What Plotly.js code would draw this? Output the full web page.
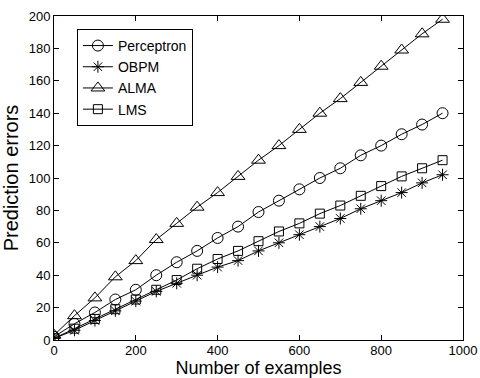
<!DOCTYPE html>
<html><head><meta charset="utf-8">
<script src="https://cdn.plot.ly/plotly-3.0.1.min.js"></script>
<style>html,body{margin:0;padding:0;background:#fff}#plot{width:480px;height:378px}</style>
</head><body><div id="plot"></div>
<script>
const examples = [0,50,100,150,200,250,300,350,400,450,500,550,600,650,700,750,800,850,900,950];
const perceptron = [2,10,17,25,31,40,48,55,63,70,79,86,93,100,106,114,120,127,133,140];
const obpm = [1,6,12,18,24,30,35,40,45,49,55,60,65,70,75,81,86,91,97,102];
const alma = [3,15,26,39,49,62,72,82,91,101,111,120,130,140,149,159,169,179,189,198];
const lms = [1,7,13,19,25,31,37,44,50,55,61,67,72,78,83,89,95,101,106,111];
const seriesNames = ['Perceptron','OBPM','ALMA','LMS'];
const xTicks = [0,200,400,600,800,1000];
const yTicks = [0,20,40,60,80,100,120,140,160,180,200];

const symbols = ['circle-open','asterisk-open','triangle-up-open','square-open'];
const sizes = [11,10,12,9];
const data = [perceptron, obpm, alma, lms].map((ys,i)=>({
  x: examples, y: ys, name: seriesNames[i], type:'scatter', mode:'lines+markers',
  line:{color:'#000', width:1},
  marker:{symbol:symbols[i], size:sizes[i], color:'#000', line:{color:'#000', width:1}}
}));
const axisCommon = {showline:true, mirror:'ticks', linecolor:'#000', linewidth:1,
  ticks:'inside', ticklen:5, tickcolor:'#000', showgrid:false, zeroline:false,
  tickfont:{family:'Liberation Sans, Arial', size:13, color:'#000'}};
const layout = {
  width:480, height:378,
  margin:{l:54, r:17, t:16, b:38},
  paper_bgcolor:'#fff', plot_bgcolor:'#fff',
  font:{family:'Liberation Sans, Arial', color:'#000'},
  xaxis: Object.assign({}, axisCommon, {range:[0,1000], tickvals:xTicks, ticktext:xTicks.map(String),
    ticklabelstandoff:-2,
    title:{text:'Number of examples', font:{size:18}, standoff:0}}),
  yaxis: Object.assign({}, axisCommon, {range:[0,200], tickvals:yTicks, ticktext:yTicks.map(String),
    title:{text:'Prediction errors', font:{size:20}, standoff:4}}),
  showlegend:true,
  legend:{x:0.056, y:0.96, xanchor:'left', yanchor:'top', bgcolor:'#fff', bordercolor:'#000', borderwidth:1,
    font:{size:14, family:'Liberation Sans, Arial'}, tracegroupgap:0, itemwidth:30}
};
Plotly.newPlot('plot', data, layout, {displayModeBar:false, staticPlot:true});
</script></body></html>
